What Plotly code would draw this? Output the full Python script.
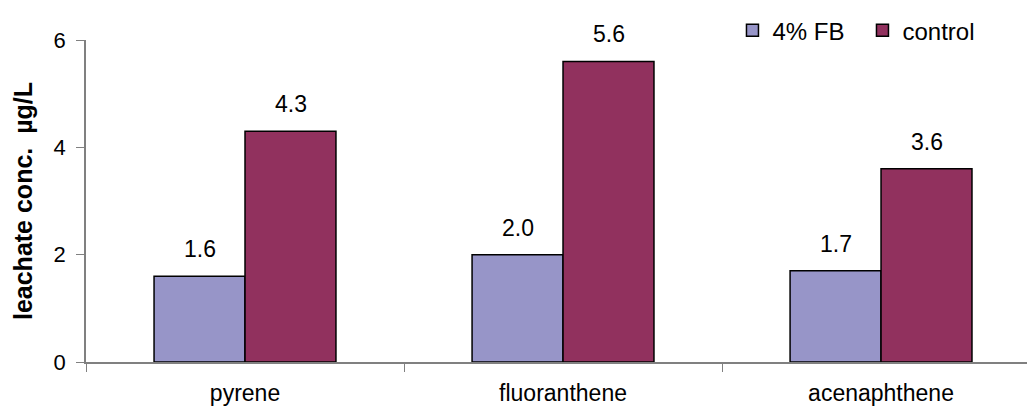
import plotly.graph_objects as go

categories = ["pyrene", "fluoranthene", "acenaphthene"]
fb_values = [1.6, 2.0, 1.7]
control_values = [4.3, 5.6, 3.6]
series_names = ["4% FB", "control"]
y_ticks = [0, 2, 4, 6]

FONT = "Arial, Liberation Sans, sans-serif"
fb_color = "#9795C8"
ctrl_color = "#91315E"

fig = go.Figure()
fig.add_trace(go.Bar(x=categories, y=fb_values, name=series_names[0],
                     marker=dict(color=fb_color, line=dict(color="black", width=1.5))))
fig.add_trace(go.Bar(x=categories, y=control_values, name=series_names[1],
                     marker=dict(color=ctrl_color, line=dict(color="black", width=1.5))))

annotations = []
for vals, shift in [(fb_values, -45.5), (control_values, 45.5)]:
    for c, v in zip(categories, vals):
        annotations.append(dict(x=c, y=v, xref="x", yref="y", text=f"{v:.1f}",
                                showarrow=False, xshift=shift, yanchor="bottom", yshift=12,
                                font=dict(family=FONT, size=23, color="black")))

fig.update_layout(
    width=1027, height=410,
    margin=dict(l=86, r=0, t=40, b=48, autoexpand=False),
    plot_bgcolor="white", paper_bgcolor="white",
    barmode="group", bargap=0.428, bargroupgap=0,
    font=dict(family=FONT, size=22, color="black"),
    annotations=annotations,
    legend=dict(orientation="h", x=0.687, y=1.029, xanchor="left", yanchor="middle",
                font=dict(family=FONT, size=24, color="black"), bgcolor="rgba(0,0,0,0)",
                itemwidth=30, entrywidth=85, tracegroupgap=0),
    xaxis=dict(range=[-0.5, 2.459], showline=True, linecolor="#808080", linewidth=1.5,
               ticks="outside", tickson="boundaries", ticklen=8, tickcolor="#808080",
               ticklabelstandoff=10, showgrid=False, zeroline=False, automargin=False,
               tickfont=dict(family=FONT, size=23, color="black")),
    yaxis=dict(range=[0, 6], tickvals=y_ticks, showline=True, linecolor="#808080",
               linewidth=1.5, ticks="outside", ticklen=8, tickcolor="#808080",
               ticklabelstandoff=6, showgrid=False, zeroline=False, automargin=False,
               tickfont=dict(family=FONT, size=22, color="black"),
               title=dict(text="<b>leachate conc.\u00a0\u00a0µg/L</b>", standoff=14,
                          font=dict(family=FONT, size=25, color="black"))),
)

fig.write_html("out.html")
